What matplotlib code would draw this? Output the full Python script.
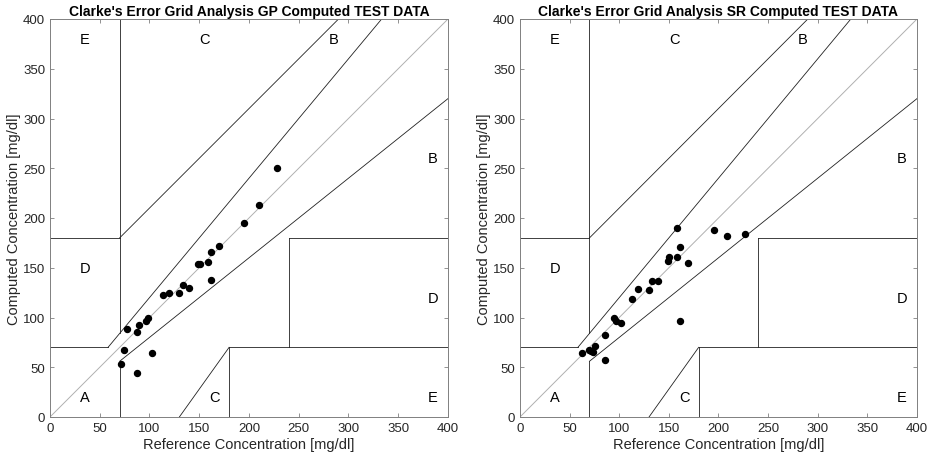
import numpy as np
import matplotlib
matplotlib.use("Agg")
import matplotlib.pyplot as plt

plt.rcParams['font.family'] = ['Liberation Sans', 'DejaVu Sans']
plt.rcParams['text.color'] = '#262626'
plt.rcParams['axes.labelcolor'] = '#262626'
plt.rcParams['xtick.labelcolor'] = '#262626'
plt.rcParams['ytick.labelcolor'] = '#262626'

# GP computed test data (reference, computed) in mg/dl
gp_ref = [228, 210, 195, 170, 162, 159, 149, 151, 162, 134, 140, 130, 120, 114,
          98, 96, 89, 77, 87, 74, 103, 71, 87]
gp_cmp = [250, 213, 195, 172, 166, 156, 154, 154, 138, 133, 130, 125, 125, 123,
          99, 96, 92, 88, 85, 67, 64, 53, 44]

# SR computed test data
sr_ref = [158, 195, 209, 227, 161, 150, 149, 158, 169, 133, 139, 130, 119, 113,
          95, 97, 102, 161, 86, 76, 70, 72, 74, 62, 86]
sr_cmp = [190, 188, 182, 184, 171, 161, 157, 161, 155, 137, 137, 128, 129, 119,
          100, 96, 94, 96, 82, 71, 67, 66, 65, 64, 57]

# zone boundaries of the Clarke error grid
zone_lines = [
    ([0, 175 / 3], [70, 70]),
    ([175 / 3, 400 / 1.2], [70, 400]),
    ([70, 70], [84, 400]),
    ([0, 70], [180, 180]),
    ([70, 290], [180, 400]),
    ([70, 70], [0, 56]),
    ([70, 400], [56, 320]),
    ([180, 180], [0, 70]),
    ([180, 400], [70, 70]),
    ([240, 240], [70, 180]),
    ([240, 400], [180, 180]),
    ([130, 180], [0, 70]),
]

zone_labels = [(30, 20, 'A'), (30, 150, 'D'), (30, 380, 'E'), (150, 380, 'C'),
               (160, 20, 'C'), (380, 20, 'E'), (380, 120, 'D'), (380, 260, 'B'),
               (280, 380, 'B')]


def clarke_plot(ax, ref, pred, title):
    ax.plot(ref, pred, 'o', color='black', markersize=4.3, zorder=3)
    ax.plot([0, 400], [0, 400], color='#b0b0b0', lw=0.7)
    for xs, ys in zone_lines:
        ax.plot(xs, ys, color='#202020', lw=0.6)
    for x, y, s in zone_labels:
        ax.text(x, y, s, fontsize=10.5, ha='left', va='center', color='black')
    ax.set_xlim(0, 400)
    ax.set_ylim(0, 400)
    ax.set_xticks(np.arange(0, 401, 50))
    ax.set_yticks(np.arange(0, 401, 50))
    ax.tick_params(direction='in', top=True, right=True, length=3,
                   color='#808080', labelsize=9.5, width=0.6)
    for sp in ax.spines.values():
        sp.set_color('#808080')
        sp.set_linewidth(0.7)
    ax.set_xlabel('Reference Concentration [mg/dl]', fontsize=10.5, labelpad=2)
    ax.set_ylabel('Computed Concentration [mg/dl]', fontsize=10.5, labelpad=1)
    ax.set_title(title, fontsize=10, fontweight='bold', pad=3, color='black')


fig = plt.figure(figsize=(9.29, 4.6), dpi=100)
ax1 = fig.add_axes([50 / 929, 42 / 460, 398 / 929, 398 / 460])
ax2 = fig.add_axes([520 / 929, 42 / 460, 397 / 929, 398 / 460])

clarke_plot(ax1, gp_ref, gp_cmp, "Clarke's Error Grid Analysis GP Computed TEST DATA")
clarke_plot(ax2, sr_ref, sr_cmp, "Clarke's Error Grid Analysis SR Computed TEST DATA")

fig.savefig('out.png', dpi=100)
